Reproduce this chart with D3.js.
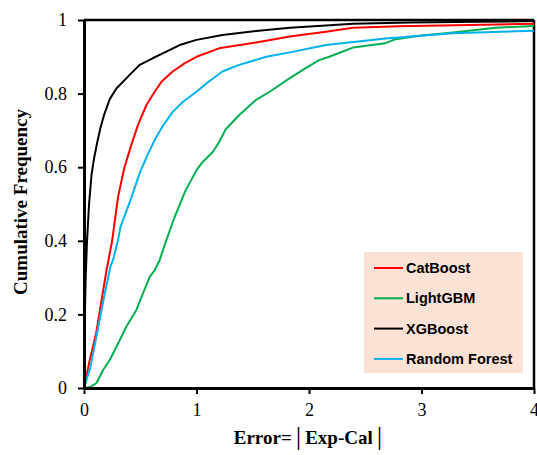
<!DOCTYPE html>
<html><head><meta charset="utf-8">
<script src="https://cdn.jsdelivr.net/npm/d3@7"></script>
<style>body{margin:0;background:#fff}svg{display:block}</style>
</head><body><div id="chart"></div>
<script>
const seriesNames = ["CatBoost", "LightGBM", "XGBoost", "Random Forest"];
const seriesColors = ["#FF0000", "#00B050", "#000000", "#00B0F0"];
const xTicks = [0, 1, 2, 3, 4];
const yTicks = [0, 0.2, 0.4, 0.6, 0.8, 1];

const catX = [0, 0.05, 0.108, 0.2, 0.25, 0.303, 0.36, 0.42, 0.48, 0.555, 0.628, 0.688, 0.788, 0.894, 1.0, 1.2, 1.53, 1.83, 2.15, 2.39, 2.8, 3.3, 4];
const catY = [0, 0.075, 0.149, 0.32, 0.40, 0.52, 0.60, 0.66, 0.715, 0.769, 0.805, 0.832, 0.86, 0.882, 0.90, 0.923, 0.939, 0.955, 0.968, 0.979, 0.983, 0.986, 0.99];

const lgbX = [0, 0.05, 0.11, 0.17, 0.229, 0.303, 0.377, 0.466, 0.524, 0.584, 0.628, 0.673, 0.732, 0.80, 0.90, 1.0, 1.057, 1.146, 1.2, 1.26, 1.38, 1.53, 1.65, 1.83, 1.97, 2.09, 2.18, 2.39, 2.68, 2.77, 2.98, 3.28, 3.66, 4];
const lgbY = [0, 0.002, 0.013, 0.049, 0.076, 0.121, 0.167, 0.212, 0.257, 0.302, 0.32, 0.348, 0.402, 0.46, 0.535, 0.592, 0.615, 0.642, 0.668, 0.703, 0.742, 0.783, 0.805, 0.842, 0.869, 0.891, 0.90, 0.925, 0.937, 0.948, 0.957, 0.966, 0.979, 0.984];

const xgbX = [0, 0.008, 0.015, 0.027, 0.045, 0.067, 0.09, 0.116, 0.145, 0.176, 0.229, 0.288, 0.406, 0.495, 0.61, 0.732, 0.85, 1.0, 1.23, 1.53, 1.83, 2.15, 2.39, 2.9, 3.5, 4];
const xgbY = [0, 0.2, 0.3, 0.40, 0.50, 0.58, 0.625, 0.665, 0.705, 0.74, 0.785, 0.814, 0.851, 0.878, 0.896, 0.914, 0.932, 0.946, 0.959, 0.970, 0.979, 0.985, 0.990, 0.993, 0.995, 0.997];

const rfX = [0, 0.058, 0.116, 0.18, 0.235, 0.258, 0.303, 0.324, 0.41, 0.495, 0.56, 0.63, 0.70, 0.79, 0.88, 1.0, 1.09, 1.23, 1.38, 1.62, 1.83, 2.15, 2.68, 3.28, 4];
const rfY = [0, 0.058, 0.149, 0.25, 0.33, 0.348, 0.402, 0.438, 0.508, 0.584, 0.63, 0.675, 0.712, 0.751, 0.778, 0.805, 0.828, 0.86, 0.878, 0.90, 0.912, 0.932, 0.95, 0.964, 0.971];

const seriesX = [catX, lgbX, xgbX, rfX];
const seriesY = [catY, lgbY, xgbY, rfY];

const W = 537, H = 455;
const m = {l: 84, t: 20, r: 2, b: 67};
const iw = W - m.l - m.r, ih = H - m.t - m.b;

const svg = d3.select("#chart").append("svg").attr("width", W).attr("height", H);
const g = svg.append("g").attr("transform", `translate(${m.l},${m.t})`);

const x = d3.scaleLinear().domain([0, 4]).range([0, iw - 1]);
const y = d3.scaleLinear().domain([0, 1]).range([ih, 0]);

// frame top & right
g.append("line").attr("x1", 0).attr("x2", x(4)).attr("y1", y(1)).attr("y2", y(1))
  .attr("stroke", "#000").attr("stroke-width", 2.5);
g.append("line").attr("x1", x(4)).attr("x2", x(4)).attr("y1", y(1)).attr("y2", y(0))
  .attr("stroke", "#000").attr("stroke-width", 2.5);

// series
const line = d3.line().x(d => x(d[0])).y(d => y(d[1]));
seriesNames.forEach((name, i) => {
  const pts = seriesX[i].map((v, j) => [v, seriesY[i][j]]);
  g.append("path").datum(pts).attr("d", line).attr("fill", "none")
    .attr("stroke", seriesColors[i]).attr("stroke-width", 2).attr("stroke-linejoin", "round");
});

// axes
const xAxis = g.append("g").attr("transform", `translate(0,${ih})`)
  .call(d3.axisBottom(x).tickValues(xTicks).tickFormat(d3.format("d")).tickSize(6).tickSizeOuter(0).tickPadding(9));
const yAxis = g.append("g")
  .call(d3.axisLeft(y).tickValues(yTicks).tickFormat(d => d === 0 || d === 1 ? d3.format("d")(d) : d3.format(".1f")(d)).tickSize(6).tickSizeOuter(0).tickPadding(11));
[xAxis, yAxis].forEach(a => {
  a.select(".domain").attr("stroke", "#000").attr("stroke-width", 3);
  a.selectAll(".tick line").attr("stroke", "#000").attr("stroke-width", 2);
  a.selectAll(".tick text").attr("font-family", "'Liberation Serif', 'Times New Roman', serif")
    .attr("font-size", 18).attr("fill", "#000");
});

// axis titles
svg.append("text").attr("x", 310).attr("y", 444).attr("text-anchor", "middle")
  .attr("font-family", "'Liberation Serif', 'Times New Roman', serif").attr("font-weight", "bold")
  .attr("font-size", 19).text("Error=│Exp-Cal│");
svg.append("text").attr("transform", "translate(27,202) rotate(-90)").attr("text-anchor", "middle")
  .attr("font-family", "'Liberation Serif', 'Times New Roman', serif").attr("font-weight", "bold")
  .attr("font-size", 19).text("Cumulative Frequency");

// legend
const lg = svg.append("g");
lg.append("rect").attr("x", 364).attr("y", 252).attr("width", 159).attr("height", 121).attr("fill", "#FBE2D5");
seriesNames.forEach((name, i) => {
  const cy = 268 + i * 30.3;
  lg.append("line").attr("x1", 374).attr("x2", 403).attr("y1", cy).attr("y2", cy)
    .attr("stroke", seriesColors[i]).attr("stroke-width", 2);
  lg.append("text").attr("x", 406).attr("y", cy + 5).attr("font-family", "'Liberation Sans', Arial, sans-serif")
    .attr("font-weight", "bold").attr("font-size", 14.5).attr("fill", "#000").text(name);
});
</script></body></html>
